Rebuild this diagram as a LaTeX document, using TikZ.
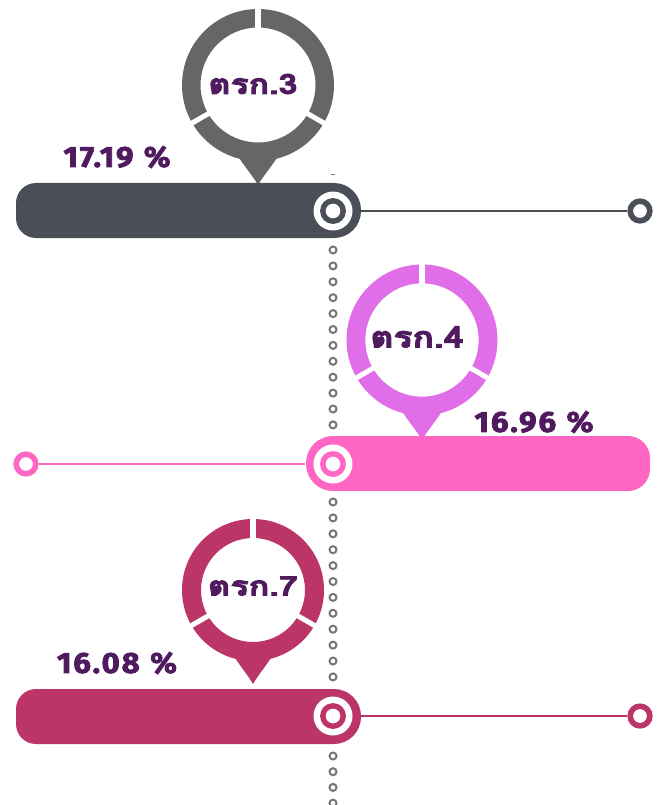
\documentclass[tikz,border=0pt]{standalone}
\usepackage{fontspec}
\newfontfamily\thaifont[Script=Thai,BoldFeatures={FakeBold=3}]{Loma}
\setmainfont[BoldFeatures={FakeBold=2.5,LetterSpace=6}]{Fira Sans}
\definecolor{txt}{HTML}{4F1B5E}
\definecolor{grayring}{HTML}{666666}
\definecolor{darkbar}{HTML}{4A4E57}
\definecolor{pinkring}{HTML}{E06EE8}
\definecolor{pinkbar}{HTML}{FF66C4}
\definecolor{maroon}{HTML}{BB3568}
\definecolor{dotgray}{HTML}{777777}
\tikzset{
  dotring/.style={circle,draw=dotgray,line width=2pt,fill=white,minimum size=7pt,inner sep=0pt},
  endring/.style={circle,draw=#1,line width=5.6pt,fill=white,minimum size=19.6pt,inner sep=0pt},
  link/.style={draw=#1,line width=1.6pt},
  haloA/.style={circle,fill=white,minimum size=39pt,inner sep=0pt},
  coreA/.style={circle,draw=#1,line width=5.4pt,fill=white,minimum size=20.4pt,inner sep=0pt},
  pct/.style={text=txt,inner sep=0pt,font=\bfseries},
  thai/.style={text=txt,inner sep=0pt,font=\thaifont\bfseries},
}
% centre x, centre y, outer r, inner r, colour, tip depth, base half-width, base depth
\newcommand{\pinshape}[8]{%
  \fill[#5,even odd rule] (#1,#2) circle (#3) (#1,#2) circle (#4);
  \fill[#5] (#1-#7,#2+#8-3) .. controls (#1-#7+3,#2+#8+4) and (#1-5,#2+#6-9) .. (#1,#2+#6)
     .. controls (#1+5,#2+#6-9) and (#1+#7-3,#2+#8+4) .. (#1+#7,#2+#8-3) -- cycle;
  \fill[white] (#1-3,#2-#3-2) rectangle (#1+3,#2-#4+1);
  \draw[white,line width=5pt] ({#1+(#4-1)*cos(30)},{#2+(#4-1)*sin(30)}) -- ({#1+(#3+2)*cos(30)},{#2+(#3+2)*sin(30)});
  \draw[white,line width=5pt] ({#1-(#4-1)*cos(30)},{#2+(#4-1)*sin(30)}) -- ({#1-(#3+2)*cos(30)},{#2+(#3+2)*sin(30)});
}
\begin{document}
\begin{tikzpicture}[x=1pt,y=-1pt]
\useasboundingbox (0,0) rectangle (664,805);
\fill[white] (0,0) rectangle (664,805);
% dotted column
\foreach \i in {0,...,11} \node[dotring] (da\i) at (333,250+15.9*\i) {};
\foreach \i in {0,...,11} \node[dotring] (db\i) at (333,502+15.9*\i) {};
\foreach \i in {0,...,3} \node[dotring] (dc\i) at (333,756+15.7*\i) {};
\fill[dotgray] (331,174.5) rectangle (335,175.5);
% pins
\pinshape{258}{85}{76}{57.5}{grayring}{100}{21}{72}
\pinshape{422}{340}{75.5}{56.7}{pinkring}{100}{21}{72}
\pinshape{253}{590}{71}{52}{maroon}{94}{20}{67}
% bars
\fill[darkbar,rounded corners=20pt] (16,183) -- (16,238) -- (200,238) [rounded corners=27pt] -- (361,238) -- (361,183) -- (200,183) [rounded corners=20pt] -- cycle;
\fill[pinkbar,rounded corners=27pt] (306,436) -- (306,491) -- (480,491) [rounded corners=22pt] -- (650,491) -- (650,436) -- (480,436) [rounded corners=27pt] -- cycle;
\fill[maroon,rounded corners=20pt] (16,689) -- (16,744) -- (200,744) [rounded corners=27pt] -- (361,744) -- (361,689) -- (200,689) [rounded corners=20pt] -- cycle;
% targets and end rings
\node[haloA] (ha) at (333,211) {};
\node[coreA=darkbar] (ta) at (333,211) {};
\node[endring=darkbar] (ea) at (640,211) {};
\node[haloA] (hb) at (333,464) {};
\node[coreA=pinkbar] (tb) at (333,464) {};
\node[endring=pinkbar] (eb) at (26,464) {};
\node[haloA] (hc) at (333,716) {};
\node[coreA=maroon] (tc) at (333,716) {};
\node[endring=maroon] (ec) at (640,716) {};
\draw[link=darkbar] (ha.east) ++(8,0) -- (ea.west);
\draw[link=pinkbar] (eb.east) -- ([xshift=-8pt]hb.west);
\draw[link=maroon] (hc.east) ++(8,0) -- (ec.west);
% labels
\node[thai] (la) at (253,84) {\resizebox{89pt}{20pt}{ตรก.3}};
\node[thai] (lb) at (417,337) {\resizebox{93pt}{21pt}{ตรก.4}};
\node[thai] (lc) at (253,586) {\resizebox{90pt}{19pt}{ตรก.7}};
\node[pct] (pa) at (117,157) {\resizebox{107pt}{21pt}{17.19\,\,\%}};
\node[pct] (pb) at (534,422) {\resizebox{119pt}{21pt}{16.96\,\,\%}};
\node[pct] (pc) at (117,663) {\resizebox{120pt}{21pt}{16.08\,\,\%}};
\end{tikzpicture}
\end{document}
